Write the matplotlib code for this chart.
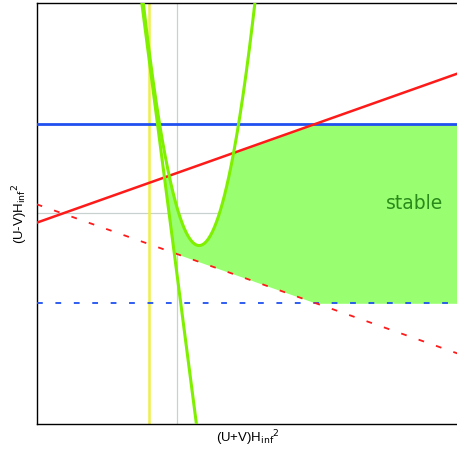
import numpy as np
import matplotlib
matplotlib.use("Agg")
import matplotlib.pyplot as plt

# axis ranges
xlim = (-2.0/3.0, 4.0/3.0)
ylim = (-1.0, 1.0)

# horizontal bounds (solid above, dashed below)
blue_level = 0.426
# sloped bounds y = +/-(red_icpt + red_slope*x)
red_icpt = 0.193
red_slope = 0.355
# vertical marker
yellow_x = -0.135
# straight green line, two end points
gline_x = [-0.169, 0.090]
gline_y = [1.0, -1.0]
# green parabola: vertex and curvature
par_x0 = 0.1025
par_y0 = -0.152
par_a = 16.47

label_x = r"(U+V)H$_{\mathrm{inf}}{}^{2}$"
label_y = r"(U-V)H$_{\mathrm{inf}}{}^{2}$"
region_name = "stable"
region_pos = (1.123, 0.02)

fig = plt.figure(figsize=(4.57, 4.58), dpi=100)
ax = fig.add_axes([0.0803, 0.0736, 0.924, 0.9205])

x = np.linspace(xlim[0], xlim[1], 2001)
red_up = red_icpt + red_slope*x
red_lo = -(red_icpt + red_slope*x)
m = (gline_y[1]-gline_y[0]) / (gline_x[1]-gline_x[0])
gline = gline_y[0] + m*(x - gline_x[0])
par = par_a*(x - par_x0)**2 + par_y0

upper = np.minimum(np.minimum(red_up, blue_level), par)
lower = np.maximum(np.maximum(red_lo, -blue_level), gline)
ax.fill_between(x, lower, upper, where=upper > lower, color="#99ff70", lw=0, zorder=1)

# grid lines at the origin
ax.axhline(0, color="#c8d0d0", lw=0.9, zorder=0)
ax.axvline(0, color="#c8d0d0", lw=0.9, zorder=0)

ax.axhline(blue_level, color="#2050f0", lw=2.0, zorder=3)
ax.axhline(-blue_level, color="#2050f0", lw=1.3, ls=(0, (3.2, 7.0)), zorder=3)
ax.plot(x, red_up, color="#ff1a1a", lw=1.8, zorder=4)
ax.plot(x, red_lo, color="#ff1a1a", lw=1.3, ls=(0, (3.2, 7.0)), zorder=4)
ax.axvline(yellow_x, color="#eef046", lw=1.8, zorder=2)
ax.plot(x, gline, color="#7ff000", lw=2.2, zorder=5)
ax.plot(x, par, color="#7ff000", lw=2.2, zorder=5)

ax.text(region_pos[0], region_pos[1], region_name, color="#2a8a1a",
        fontsize=13.5, ha="center", va="baseline", zorder=6)

ax.set_xlim(*xlim)
ax.set_ylim(*ylim)
ax.set_xticks([])
ax.set_yticks([])
ax.spines["right"].set_visible(False)
for s in ["left", "bottom", "top"]:
    ax.spines[s].set_linewidth(1.0)
ax.set_xlabel(label_x, fontsize=9.5, family="Liberation Sans", labelpad=3)
ax.set_ylabel(label_y, fontsize=9.5, family="Liberation Sans", labelpad=5)

fig.savefig("out.png", dpi=100)
